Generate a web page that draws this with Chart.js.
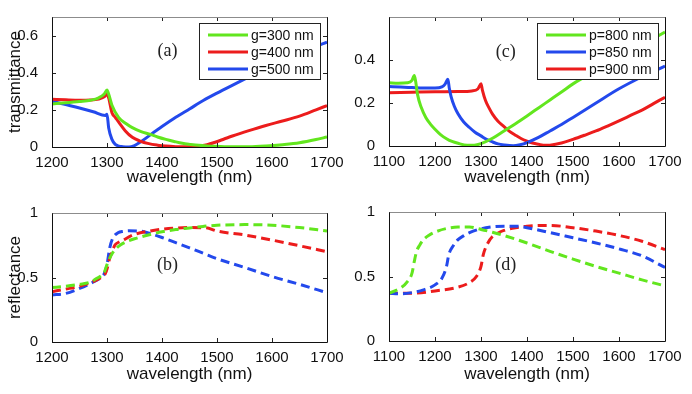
<!DOCTYPE html>
<html><head><meta charset="utf-8">
<script src="https://cdn.jsdelivr.net/npm/chart.js@4.4.0/dist/chart.umd.min.js"></script>
<style>
html,body{margin:0;padding:0;background:#fff;}
#wrap{position:relative;width:692px;height:394px;overflow:hidden;background:#fff;}
#wrap canvas{position:absolute;}
</style></head><body>
<div id="wrap">
<canvas id="ca" width="346" height="197" style="left:0;top:0"></canvas>
<canvas id="cc" width="346" height="197" style="left:346px;top:0"></canvas>
<canvas id="cb" width="346" height="197" style="left:0;top:197px"></canvas>
<canvas id="cd" width="346" height="197" style="left:346px;top:197px"></canvas>
</div>
<script>
// ---------- tick labels ----------
const xTicksLeft = [1200, 1300, 1400, 1500, 1600, 1700];
const xTicksRight = [1100, 1200, 1300, 1400, 1500, 1600, 1700];
const yTicksA = [0, 0.2, 0.4, 0.6];
const yTicksC = [0, 0.2, 0.4];
const yTicksR = [0, 0.5, 1];

// ---------- panel (a): transmittance vs gap ----------
const aG300x = [1200,1225,1250,1270,1285,1295,1300,1303,1309,1321,1335,1346,1362,1379,1392,1407,1422,1437,1452,1467,1482,1498,1528,1558,1589,1619,1650,1680,1700];
const aG300y = [0.232,0.238,0.245,0.252,0.265,0.285,0.307,0.285,0.225,0.16,0.125,0.104,0.083,0.068,0.054,0.041,0.03,0.02,0.014,0.009,0.006,0.004,0.001,0.001,0.005,0.0125,0.023,0.04,0.054];
const aG400x = [1200,1225,1250,1270,1285,1295,1300,1303,1309,1315,1321,1333,1346,1360,1376,1392,1407,1425,1443,1467,1482,1498,1513,1528,1558,1589,1619,1650,1680,1700];
const aG400y = [0.257,0.254,0.252,0.253,0.258,0.27,0.285,0.265,0.184,0.16,0.135,0.088,0.052,0.032,0.018,0.01,0.005,0.002,0.001,0.004,0.012,0.027,0.043,0.059,0.088,0.116,0.14,0.166,0.2,0.223];
const aG500x = [1200,1225,1250,1275,1297,1300,1303,1309,1315,1322,1328,1340,1350,1360,1380,1400,1425,1450,1475,1500,1525,1550,1575,1600,1625,1650,1675,1700];
const aG500y = [0.246,0.228,0.21,0.19,0.17,0.176,0.104,0.041,0.014,0.005,0.002,0.0,0.008,0.025,0.068,0.11,0.16,0.205,0.25,0.29,0.328,0.365,0.403,0.44,0.473,0.505,0.536,0.565];

// ---------- panel (c): transmittance vs period ----------
const cP800x = [1100,1120,1140,1150,1155,1158,1162,1170,1180,1190,1200,1212,1225,1237,1250,1270,1285,1300,1325,1350,1375,1400,1425,1450,1475,1500,1550,1600,1650,1700];
const cP800y = [0.294,0.292,0.294,0.305,0.328,0.3,0.24,0.18,0.133,0.102,0.078,0.053,0.034,0.021,0.0125,0.004,0.004,0.011,0.036,0.07,0.104,0.14,0.177,0.214,0.251,0.289,0.35,0.41,0.47,0.53];
const cP850x = [1100,1125,1150,1175,1200,1215,1222,1228,1231,1235,1242,1250,1262,1275,1287,1300,1312,1325,1337,1350,1370,1385,1400,1425,1450,1475,1500,1550,1600,1650,1700];
const cP850y = [0.277,0.274,0.272,0.27,0.27,0.275,0.288,0.31,0.27,0.23,0.185,0.15,0.113,0.086,0.064,0.047,0.031,0.019,0.01,0.005,0.001,0.006,0.016,0.04,0.07,0.1,0.133,0.2,0.266,0.322,0.372];
const cP900x = [1100,1150,1200,1250,1280,1293,1300,1303,1310,1318,1325,1337,1350,1362,1375,1387,1400,1412,1425,1440,1450,1475,1500,1525,1550,1575,1600,1625,1650,1675,1700];
const cP900y = [0.248,0.25,0.252,0.253,0.256,0.265,0.289,0.26,0.21,0.175,0.148,0.115,0.09,0.068,0.05,0.035,0.023,0.014,0.008,0.003,0.004,0.014,0.031,0.05,0.07,0.093,0.117,0.142,0.167,0.197,0.227];

// ---------- panel (b): reflectance vs gap ----------
const bG300x = [1200,1225,1250,1270,1280,1290,1295,1300,1305,1310,1318,1325,1337,1350,1375,1400,1425,1450,1475,1500,1550,1600,1650,1700];
const bG300y = [0.422,0.432,0.447,0.465,0.49,0.515,0.54,0.6,0.65,0.69,0.73,0.754,0.78,0.8,0.83,0.854,0.872,0.884,0.896,0.905,0.91,0.905,0.887,0.86];
const bG400x = [1200,1225,1250,1270,1290,1297,1300,1305,1310,1315,1322,1330,1340,1350,1375,1400,1425,1450,1480,1500,1550,1600,1650,1700];
const bG400y = [0.39,0.41,0.432,0.46,0.503,0.53,0.565,0.65,0.71,0.754,0.775,0.79,0.815,0.834,0.858,0.874,0.883,0.887,0.885,0.86,0.83,0.79,0.746,0.70];
const bG500x = [1200,1225,1250,1275,1290,1295,1300,1305,1310,1320,1330,1340,1360,1375,1400,1425,1450,1475,1500,1550,1600,1650,1700];
const bG500y = [0.364,0.377,0.415,0.465,0.505,0.53,0.6,0.73,0.80,0.847,0.858,0.862,0.86,0.845,0.81,0.77,0.73,0.688,0.646,0.578,0.508,0.447,0.382];

// ---------- panel (d): reflectance vs period ----------
const dP800x = [1100,1125,1140,1150,1155,1160,1167,1175,1187,1200,1225,1250,1275,1300,1325,1350,1400,1450,1500,1550,1600,1650,1700];
const dP800y = [0.37,0.41,0.46,0.526,0.617,0.695,0.745,0.786,0.82,0.844,0.872,0.883,0.883,0.865,0.843,0.818,0.76,0.695,0.635,0.578,0.526,0.474,0.427];
const dP850x = [1100,1125,1150,1175,1200,1215,1225,1230,1240,1250,1262,1275,1300,1325,1350,1375,1400,1450,1500,1550,1600,1650,1700];
const dP850y = [0.37,0.365,0.375,0.396,0.435,0.487,0.578,0.669,0.74,0.786,0.815,0.84,0.87,0.885,0.89,0.89,0.878,0.84,0.80,0.76,0.714,0.66,0.57];
const dP900x = [1100,1150,1200,1250,1275,1290,1300,1305,1315,1325,1337,1350,1375,1400,1450,1500,1550,1600,1650,1700];
const dP900y = [0.37,0.37,0.388,0.417,0.453,0.50,0.578,0.67,0.76,0.81,0.837,0.857,0.878,0.89,0.896,0.878,0.852,0.818,0.773,0.708];

// ---------- labels ----------
const gapLabels = ['g=300 nm', 'g=400 nm', 'g=500 nm'];
const periodLabels = ['p=800 nm', 'p=850 nm', 'p=900 nm'];

const GREEN = '#62e61e', RED = '#ec1c1c', BLUE = '#2349ec';
const SANS = '"Liberation Sans", Arial, sans-serif';
const SERIF = '"Liberation Serif", "DejaVu Serif", serif';

function pts(xs, ys) { return xs.map((x, i) => ({x: x, y: ys[i]})); }

function ds(label, xs, ys, color, dashed) {
  return {
    label: label, data: pts(xs, ys), borderColor: color, backgroundColor: color,
    borderWidth: 3, pointRadius: 0, fill: false, cubicInterpolationMode: 'monotone',
    borderDash: dashed ? [9, 5] : [], borderCapStyle: 'butt', borderJoinStyle: 'round'
  };
}

const framePlugin = {
  id: 'frame',
  afterDraw(chart) {
    const {ctx, chartArea: a, scales} = chart;
    const o = chart.options.plugins.frame;
    ctx.save();
    // inward ticks
    ctx.strokeStyle = '#222'; ctx.lineWidth = 1;
    const tl = 4;
    scales.x.ticks.forEach(t => {
      const px = Math.round(scales.x.getPixelForValue(t.value)) + 0.5;
      ctx.beginPath(); ctx.moveTo(px, a.bottom); ctx.lineTo(px, a.bottom - tl);
      ctx.moveTo(px, a.top); ctx.lineTo(px, a.top + tl); ctx.stroke();
    });
    scales.y.ticks.forEach(t => {
      const py = Math.round(scales.y.getPixelForValue(t.value)) + 0.5;
      ctx.beginPath(); ctx.moveTo(a.left, py); ctx.lineTo(a.left + tl, py);
      ctx.moveTo(a.right, py); ctx.lineTo(a.right - tl, py); ctx.stroke();
    });
    // frame
    const L = Math.round(a.left) + 0.5, R = Math.round(a.right) + 0.5, T = Math.round(a.top) + 0.5, B = Math.round(a.bottom) + 0.5;
    ctx.lineWidth = 1;
    ctx.strokeStyle = '#8c8c8c';
    ctx.beginPath(); ctx.moveTo(L, T); ctx.lineTo(R, T); ctx.stroke();
    ctx.strokeStyle = '#111';
    ctx.beginPath(); ctx.moveTo(L, T); ctx.lineTo(L, B); ctx.lineTo(R, B); ctx.lineTo(R, T); ctx.stroke();
    // panel tag
    if (o && o.tag) {
      ctx.fillStyle = '#222';
      ctx.font = '18px ' + SERIF;
      ctx.textAlign = 'center'; ctx.textBaseline = 'middle';
      ctx.fillText(o.tag, scales.x.getPixelForValue(o.tagX), scales.y.getPixelForValue(o.tagY));
    }
    // legend
    if (o && o.legend) {
      const w = 121, h = 56, right = a.right - 7, top = a.top + 6;
      const left = right - w;
      ctx.fillStyle = '#fff';
      ctx.fillRect(left, top, w, h);
      ctx.strokeStyle = '#222'; ctx.lineWidth = 1;
      ctx.strokeRect(Math.round(left) + 0.5, Math.round(top) + 0.5, w, h);
      ctx.font = '14px ' + SANS; ctx.textAlign = 'left'; ctx.textBaseline = 'middle';
      chart.data.datasets.forEach((d, i) => {
        const y = top + 12 + i * 17;
        ctx.strokeStyle = d.borderColor; ctx.lineWidth = 3; ctx.setLineDash([]);
        ctx.beginPath(); ctx.moveTo(left + 9, y); ctx.lineTo(left + 49, y); ctx.stroke();
        ctx.fillStyle = '#111';
        ctx.fillText(d.label, left + 52, y + 1);
      });
    }
    ctx.restore();
  }
};

function makeChart(id, datasets, cfg) {
  return new Chart(document.getElementById(id), {
    type: 'line',
    data: {datasets: datasets},
    plugins: [framePlugin],
    options: {
      responsive: false, animation: false, events: [],
      layout: {padding: {left: 0, top: cfg.top, right: cfg.right, bottom: 0}},
      plugins: {legend: {display: false}, tooltip: {enabled: false},
        frame: {tag: cfg.tag, tagX: cfg.tagX, tagY: cfg.tagY, legend: cfg.legend}},
      scales: {
        x: {
          type: 'linear', min: cfg.xmin, max: 1700,
          grid: {display: false}, border: {display: false},
          afterBuildTicks: s => { s.ticks = cfg.xticks.map(v => ({value: v})); },
          afterFit: s => { s.height = cfg.xh; s.paddingLeft = 0; s.paddingRight = 0; },
          ticks: {color: '#111', font: {family: SANS, size: 15}, padding: -1, maxRotation: 0,
            autoSkip: false, callback: v => String(v)},
          title: {display: true, text: 'wavelength (nm)', color: '#111',
            font: {family: SANS, size: 17}, padding: {top: 0, bottom: 9}}
        },
        y: {
          min: 0, max: cfg.ymax,
          grid: {display: false}, border: {display: false},
          afterBuildTicks: s => { s.ticks = cfg.yticks.map(v => ({value: v})); },
          afterFit: s => { s.width = cfg.yw; s.paddingTop = 0; s.paddingBottom = 0; },
          ticks: {color: '#111', font: {family: SANS, size: 15}, padding: 6,
            callback: v => String(Math.round(v * 10) / 10)},
          title: {display: !!cfg.ytitle, text: cfg.ytitle || '', color: '#111',
            font: {family: SANS, size: 17}, padding: {top: 5, bottom: 0}}
        }
      }
    }
  });
}

makeChart('ca', [
  ds(gapLabels[0], aG300x, aG300y, GREEN, false),
  ds(gapLabels[1], aG400x, aG400y, RED, false),
  ds(gapLabels[2], aG500x, aG500y, BLUE, false)
], {top: 17, right: 19, xh: 50, yw: 52, xmin: 1200, ymax: 0.7, xticks: xTicksLeft, yticks: yTicksA,
    ytitle: 'transmittance', tag: '(a)', tagX: 1410, tagY: 0.513, legend: true});

makeChart('cc', [
  ds(periodLabels[0], cP800x, cP800y, GREEN, false),
  ds(periodLabels[1], cP850x, cP850y, BLUE, false),
  ds(periodLabels[2], cP900x, cP900y, RED, false)
], {top: 17, right: 27, xh: 51, yw: 43, xmin: 1100, ymax: 0.6, xticks: xTicksRight, yticks: yTicksC,
    ytitle: '', tag: '(c)', tagX: 1354, tagY: 0.437, legend: true});

makeChart('cb', [
  ds(gapLabels[0], bG300x, bG300y, GREEN, true),
  ds(gapLabels[1], bG400x, bG400y, RED, true),
  ds(gapLabels[2], bG500x, bG500y, BLUE, true)
], {top: 16, right: 19, xh: 52, yw: 52, xmin: 1200, ymax: 1, xticks: xTicksLeft, yticks: yTicksR,
    ytitle: 'reflectance', tag: '(b)', tagX: 1410, tagY: 0.598, legend: false});

makeChart('cd', [
  ds(periodLabels[0], dP800x, dP800y, GREEN, true),
  ds(periodLabels[1], dP850x, dP850y, BLUE, true),
  ds(periodLabels[2], dP900x, dP900y, RED, true)
], {top: 15, right: 27, xh: 53, yw: 43, xmin: 1100, ymax: 1, xticks: xTicksRight, yticks: yTicksR,
    ytitle: '', tag: '(d)', tagX: 1354, tagY: 0.59, legend: false});
</script>
</body></html>
